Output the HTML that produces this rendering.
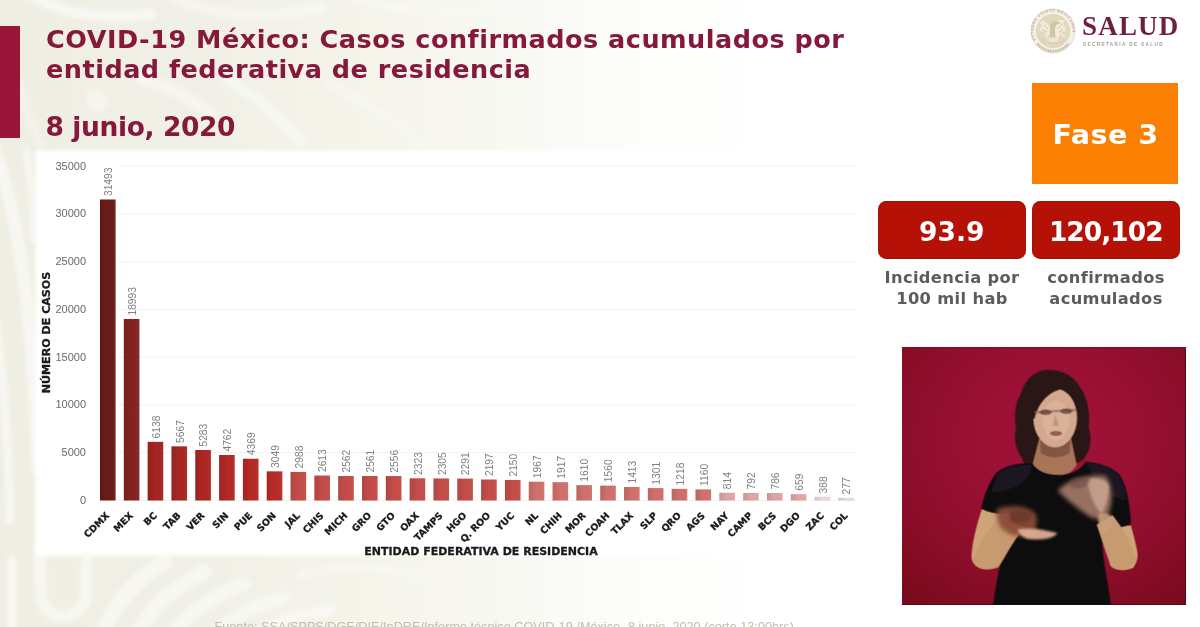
<!DOCTYPE html>
<html lang="es">
<head>
<meta charset="utf-8">
<title>COVID-19 México: Casos confirmados acumulados por entidad federativa de residencia</title>
<style>
html,body{margin:0;padding:0}
body{width:1200px;height:627px;overflow:hidden;position:relative;background:#ffffff;font-family:"DejaVu Sans","Liberation Sans",sans-serif}
.bg{position:absolute;left:0;top:0;width:1200px;height:627px;background:linear-gradient(90deg,#efeee3 0%,#f1f0e6 18%,#f5f5ec 32%,#f9f9f4 44%,#fdfdfb 54%,#ffffff 64%)}
.sidebar{position:absolute;left:-6px;top:26.4px;width:25.6px;height:111.3px;background:#99163a}
.title{position:absolute;left:46px;top:24.4px;margin:0;font-weight:bold;font-size:25.5px;line-height:30px;color:#86193b;letter-spacing:0.5px;white-space:nowrap}
.date{position:absolute;left:45.5px;top:109.5px;margin:0;font-weight:bold;font-size:26.5px;line-height:34px;color:#86193b;letter-spacing:-0.4px;white-space:nowrap}
.logo-t{position:absolute;left:1082px;top:10.7px;font-family:"Liberation Serif","DejaVu Serif",serif;font-weight:bold;font-size:27px;line-height:30px;color:#6e1f3f;letter-spacing:1.2px;white-space:nowrap}
.logo-s{position:absolute;left:1083px;top:40.8px;font-family:"Liberation Sans",sans-serif;font-weight:bold;font-size:4.7px;line-height:8px;color:#a39c8a;letter-spacing:1.36px;white-space:nowrap}
.fase{position:absolute;left:1032px;top:83px;width:146px;height:101px;background:#fb7f03;color:#fff;font-weight:bold;font-size:28.6px;line-height:105px;text-align:center;letter-spacing:0.45px;text-indent:0.45px}
.fase span{display:inline-block;transform:scaleY(0.925)}
.kpi{position:absolute;top:200.6px;height:58.4px;border-radius:8.5px;background:#b51106;box-shadow:inset 0 0 0 1px rgba(130,24,14,0.55);color:#fff;font-weight:bold;font-size:26.5px;line-height:61px;text-align:center}
.cap{position:absolute;top:266.5px;font-weight:bold;font-size:16.3px;line-height:21px;color:#5c5c5c;text-align:center;letter-spacing:0.35px}
.video{position:absolute;left:902px;top:346.5px;width:283.7px;height:258.9px;background:radial-gradient(ellipse 78% 80% at 52% 36%,#a21238 0%,#9a1034 35%,#8b0d29 70%,#790b1d 100%);box-shadow:inset 0 1px 0 #7d0b25,inset -1px -1px 0 #5a0714;overflow:hidden}
.foot{position:absolute;left:214.5px;top:619.4px;font-family:"Liberation Sans",sans-serif;font-size:12.6px;line-height:16px;color:#c2bcad;white-space:nowrap;letter-spacing:0.05px}
.title,.date,.fase,.kpi,.cap,.logo-t,.sidebar{filter:blur(0.45px)}
.logo-s{filter:blur(0.3px)}
.video{filter:blur(0.5px)}
</style>
</head>
<body>
<div class="bg"></div>
<svg width="1200" height="627" viewBox="0 0 1200 627" style="position:absolute;left:0;top:0">
<defs><filter id="pg" x="-5%" y="-5%" width="110%" height="110%"><feGaussianBlur stdDeviation="2.2"/></filter></defs>
<g filter="url(#pg)" fill="none" stroke="#fbfaf7" stroke-linecap="round" opacity="0.72">
  <!-- left strip bands -->
  <path d="M-6 150 C10 190 22 250 30 330 C34 380 36 420 38 470" stroke-width="13"/>
  <path d="M-8 300 C2 360 8 430 10 520" stroke-width="9"/>
  <path d="M26 150 C30 170 33 200 34 240" stroke-width="7"/>
  <!-- bottom U -->
  <path d="M40 548 L41 596 C44 622 82 624 86 596 L87 560" stroke-width="12"/>
  <path d="M12 560 L12 640" stroke-width="10"/>
  <!-- bottom feather bands -->
  <path d="M100 640 C112 606 134 580 164 562" stroke-width="16"/>
  <path d="M134 640 C148 610 172 588 204 572" stroke-width="15"/>
  <path d="M170 640 C186 614 210 596 244 584" stroke-width="14"/>
  <path d="M208 640 C226 620 250 606 284 598" stroke-width="13"/>
  <path d="M250 640 C270 624 296 614 330 610" stroke-width="11"/>
  <path d="M300 575 C340 565 380 566 420 575" stroke-width="9" opacity="0.6"/>
  <!-- top pattern -->
  <path d="M30 -6 C60 14 100 20 150 14" stroke-width="11"/>
  <path d="M170 -4 C210 16 260 20 320 8" stroke-width="10" opacity="0.8"/>
  <path d="M350 -4 C400 14 450 16 520 4" stroke-width="9" opacity="0.6"/>
  <path d="M140 78 C165 84 190 98 210 114" stroke-width="12" opacity="0.8"/>
  <path d="M228 80 C255 95 280 118 300 142" stroke-width="12" opacity="0.8"/>
  <path d="M90 96 C94 92 102 94 104 102 C102 110 92 110 90 96 Z" stroke-width="9" opacity="0.8"/>
  <path d="M330 84 C360 100 395 118 420 146" stroke-width="10" opacity="0.55"/>
  <path d="M20 84 C24 104 30 124 42 146" stroke-width="8" opacity="0.6"/>
</g>
</svg>

<div class="sidebar"></div>
<h1 class="title">COVID-19 México: Casos confirmados acumulados por<br>entidad federativa de residencia</h1>
<h2 class="date">8 junio, 2020</h2>
<svg width="1200" height="627" viewBox="0 0 1200 627" style="position:absolute;left:0;top:0">
<defs><filter id="soft" x="-5%" y="-5%" width="110%" height="110%"><feGaussianBlur stdDeviation="0.5"/></filter><filter id="b6" x="-10%" y="-10%" width="120%" height="120%"><feGaussianBlur stdDeviation="2.2"/></filter><linearGradient id="barsh" x1="0" x2="1" y1="0" y2="0"><stop offset="0" stop-color="#000" stop-opacity="0.10"/><stop offset="0.5" stop-color="#000" stop-opacity="0"/><stop offset="1" stop-color="#fff" stop-opacity="0.04"/></linearGradient></defs>
<rect x="35.5" y="150.5" width="859" height="405" fill="#ffffff" filter="url(#b6)"/>
<g filter="url(#soft)">
<line x1="118" x2="856" y1="500.5" y2="500.5" stroke="#f2f2f2" stroke-width="1"/>
<line x1="118" x2="856" y1="452.7" y2="452.7" stroke="#f2f2f2" stroke-width="1"/>
<line x1="118" x2="856" y1="404.9" y2="404.9" stroke="#f2f2f2" stroke-width="1"/>
<line x1="118" x2="856" y1="357.1" y2="357.1" stroke="#f2f2f2" stroke-width="1"/>
<line x1="118" x2="856" y1="309.3" y2="309.3" stroke="#f2f2f2" stroke-width="1"/>
<line x1="118" x2="856" y1="261.6" y2="261.6" stroke="#f2f2f2" stroke-width="1"/>
<line x1="118" x2="856" y1="213.8" y2="213.8" stroke="#f2f2f2" stroke-width="1"/>
<line x1="118" x2="856" y1="166.0" y2="166.0" stroke="#f2f2f2" stroke-width="1"/>
<g font-family="'Liberation Sans', sans-serif" font-size="11" fill="#6a6a6a" text-anchor="end">
<text x="86" y="504.0">0</text>
<text x="86" y="456.2">5000</text>
<text x="86" y="408.4">10000</text>
<text x="86" y="360.6">15000</text>
<text x="86" y="312.8">20000</text>
<text x="86" y="265.1">25000</text>
<text x="86" y="217.3">30000</text>
<text x="86" y="169.5">35000</text>
</g>
<rect x="100.00" y="199.50" width="15.6" height="301.00" fill="#6b1b19"/>
<rect x="100.00" y="199.50" width="15.6" height="301.00" fill="url(#barsh)"/>
<rect x="123.82" y="318.97" width="15.6" height="181.53" fill="#852321"/>
<rect x="123.82" y="318.97" width="15.6" height="181.53" fill="url(#barsh)"/>
<rect x="147.64" y="441.83" width="15.6" height="58.67" fill="#a52521"/>
<rect x="147.64" y="441.83" width="15.6" height="58.67" fill="url(#barsh)"/>
<rect x="171.46" y="446.34" width="15.6" height="54.16" fill="#a92622"/>
<rect x="171.46" y="446.34" width="15.6" height="54.16" fill="url(#barsh)"/>
<rect x="195.28" y="450.01" width="15.6" height="50.49" fill="#ad2724"/>
<rect x="195.28" y="450.01" width="15.6" height="50.49" fill="url(#barsh)"/>
<rect x="219.10" y="454.99" width="15.6" height="45.51" fill="#b22925"/>
<rect x="219.10" y="454.99" width="15.6" height="45.51" fill="url(#barsh)"/>
<rect x="242.92" y="458.74" width="15.6" height="41.76" fill="#b62a27"/>
<rect x="242.92" y="458.74" width="15.6" height="41.76" fill="url(#barsh)"/>
<rect x="266.74" y="471.36" width="15.6" height="29.14" fill="#ba2b28"/>
<rect x="266.74" y="471.36" width="15.6" height="29.14" fill="url(#barsh)"/>
<rect x="290.56" y="471.94" width="15.6" height="28.56" fill="#c44d49"/>
<rect x="290.56" y="471.94" width="15.6" height="28.56" fill="url(#barsh)"/>
<rect x="314.38" y="475.53" width="15.6" height="24.97" fill="#c44d49"/>
<rect x="314.38" y="475.53" width="15.6" height="24.97" fill="url(#barsh)"/>
<rect x="338.20" y="476.01" width="15.6" height="24.49" fill="#c44d49"/>
<rect x="338.20" y="476.01" width="15.6" height="24.49" fill="url(#barsh)"/>
<rect x="362.02" y="476.02" width="15.6" height="24.48" fill="#c44d49"/>
<rect x="362.02" y="476.02" width="15.6" height="24.48" fill="url(#barsh)"/>
<rect x="385.84" y="476.07" width="15.6" height="24.43" fill="#c44d49"/>
<rect x="385.84" y="476.07" width="15.6" height="24.43" fill="url(#barsh)"/>
<rect x="409.66" y="478.30" width="15.6" height="22.20" fill="#c44d49"/>
<rect x="409.66" y="478.30" width="15.6" height="22.20" fill="url(#barsh)"/>
<rect x="433.48" y="478.47" width="15.6" height="22.03" fill="#c44d49"/>
<rect x="433.48" y="478.47" width="15.6" height="22.03" fill="url(#barsh)"/>
<rect x="457.30" y="478.60" width="15.6" height="21.90" fill="#c44d49"/>
<rect x="457.30" y="478.60" width="15.6" height="21.90" fill="url(#barsh)"/>
<rect x="481.12" y="479.50" width="15.6" height="21.00" fill="#c44d49"/>
<rect x="481.12" y="479.50" width="15.6" height="21.00" fill="url(#barsh)"/>
<rect x="504.94" y="479.95" width="15.6" height="20.55" fill="#c44d49"/>
<rect x="504.94" y="479.95" width="15.6" height="20.55" fill="url(#barsh)"/>
<rect x="528.76" y="481.70" width="15.6" height="18.80" fill="#d0706c"/>
<rect x="528.76" y="481.70" width="15.6" height="18.80" fill="url(#barsh)"/>
<rect x="552.58" y="482.18" width="15.6" height="18.32" fill="#d0706c"/>
<rect x="552.58" y="482.18" width="15.6" height="18.32" fill="url(#barsh)"/>
<rect x="576.40" y="485.11" width="15.6" height="15.39" fill="#d0706c"/>
<rect x="576.40" y="485.11" width="15.6" height="15.39" fill="url(#barsh)"/>
<rect x="600.22" y="485.59" width="15.6" height="14.91" fill="#d0706c"/>
<rect x="600.22" y="485.59" width="15.6" height="14.91" fill="url(#barsh)"/>
<rect x="624.04" y="486.99" width="15.6" height="13.51" fill="#d0706c"/>
<rect x="624.04" y="486.99" width="15.6" height="13.51" fill="url(#barsh)"/>
<rect x="647.86" y="488.07" width="15.6" height="12.43" fill="#d0706c"/>
<rect x="647.86" y="488.07" width="15.6" height="12.43" fill="url(#barsh)"/>
<rect x="671.68" y="488.86" width="15.6" height="11.64" fill="#d0706c"/>
<rect x="671.68" y="488.86" width="15.6" height="11.64" fill="url(#barsh)"/>
<rect x="695.50" y="489.41" width="15.6" height="11.09" fill="#d0706c"/>
<rect x="695.50" y="489.41" width="15.6" height="11.09" fill="url(#barsh)"/>
<rect x="719.32" y="492.72" width="15.6" height="7.78" fill="#dfa5a5"/>
<rect x="719.32" y="492.72" width="15.6" height="7.78" fill="url(#barsh)"/>
<rect x="743.14" y="492.93" width="15.6" height="7.57" fill="#dfa5a5"/>
<rect x="743.14" y="492.93" width="15.6" height="7.57" fill="url(#barsh)"/>
<rect x="766.96" y="492.99" width="15.6" height="7.51" fill="#dfa5a5"/>
<rect x="766.96" y="492.99" width="15.6" height="7.51" fill="url(#barsh)"/>
<rect x="790.78" y="494.20" width="15.6" height="6.30" fill="#dfa5a5"/>
<rect x="790.78" y="494.20" width="15.6" height="6.30" fill="url(#barsh)"/>
<rect x="814.60" y="496.79" width="15.6" height="3.71" fill="#ead6d6"/>
<rect x="814.60" y="496.79" width="15.6" height="3.71" fill="url(#barsh)"/>
<rect x="838.42" y="497.85" width="15.6" height="2.65" fill="#ead6d6"/>
<rect x="838.42" y="497.85" width="15.6" height="2.65" fill="url(#barsh)"/>
<g font-family="'Liberation Sans', sans-serif" font-size="10.3" fill="#808080">
<text transform="translate(112.0,196.1) rotate(-90)">31493</text>
<text transform="translate(135.8,315.6) rotate(-90)">18993</text>
<text transform="translate(159.6,438.4) rotate(-90)">6138</text>
<text transform="translate(183.5,442.9) rotate(-90)">5667</text>
<text transform="translate(207.3,446.6) rotate(-90)">5283</text>
<text transform="translate(231.1,451.6) rotate(-90)">4762</text>
<text transform="translate(254.9,455.3) rotate(-90)">4369</text>
<text transform="translate(278.7,468.0) rotate(-90)">3049</text>
<text transform="translate(302.6,468.5) rotate(-90)">2988</text>
<text transform="translate(326.4,472.1) rotate(-90)">2613</text>
<text transform="translate(350.2,472.6) rotate(-90)">2562</text>
<text transform="translate(374.0,472.6) rotate(-90)">2561</text>
<text transform="translate(397.8,472.7) rotate(-90)">2556</text>
<text transform="translate(421.7,474.9) rotate(-90)">2323</text>
<text transform="translate(445.5,475.1) rotate(-90)">2305</text>
<text transform="translate(469.3,475.2) rotate(-90)">2291</text>
<text transform="translate(493.1,476.1) rotate(-90)">2197</text>
<text transform="translate(516.9,476.6) rotate(-90)">2150</text>
<text transform="translate(540.8,478.3) rotate(-90)">1967</text>
<text transform="translate(564.6,478.8) rotate(-90)">1917</text>
<text transform="translate(588.4,481.7) rotate(-90)">1610</text>
<text transform="translate(612.2,482.2) rotate(-90)">1560</text>
<text transform="translate(636.0,483.6) rotate(-90)">1413</text>
<text transform="translate(659.9,484.7) rotate(-90)">1301</text>
<text transform="translate(683.7,485.5) rotate(-90)">1218</text>
<text transform="translate(707.5,486.0) rotate(-90)">1160</text>
<text transform="translate(731.3,489.3) rotate(-90)">814</text>
<text transform="translate(755.1,489.5) rotate(-90)">792</text>
<text transform="translate(779.0,489.6) rotate(-90)">786</text>
<text transform="translate(802.8,490.8) rotate(-90)">659</text>
<text transform="translate(826.6,493.4) rotate(-90)">388</text>
<text transform="translate(850.4,494.5) rotate(-90)">277</text>
</g>
<g font-family="'DejaVu Sans', 'Liberation Sans', sans-serif" font-weight="bold" font-size="9.4" fill="#1a1a1a" stroke="#1a1a1a" stroke-width="0.3" text-anchor="end">
<text transform="translate(109.9,516.2) rotate(-45)">CDMX</text>
<text transform="translate(133.7,516.2) rotate(-45)">MEX</text>
<text transform="translate(157.5,516.2) rotate(-45)">BC</text>
<text transform="translate(181.4,516.2) rotate(-45)">TAB</text>
<text transform="translate(205.2,516.2) rotate(-45)">VER</text>
<text transform="translate(229.0,516.2) rotate(-45)">SIN</text>
<text transform="translate(252.8,516.2) rotate(-45)">PUE</text>
<text transform="translate(276.6,516.2) rotate(-45)">SON</text>
<text transform="translate(300.5,516.2) rotate(-45)">JAL</text>
<text transform="translate(324.3,516.2) rotate(-45)">CHIS</text>
<text transform="translate(348.1,516.2) rotate(-45)">MICH</text>
<text transform="translate(371.9,516.2) rotate(-45)">GRO</text>
<text transform="translate(395.7,516.2) rotate(-45)">GTO</text>
<text transform="translate(419.6,516.2) rotate(-45)">OAX</text>
<text transform="translate(443.4,516.2) rotate(-45)">TAMPS</text>
<text transform="translate(467.2,516.2) rotate(-45)">HGO</text>
<text transform="translate(491.0,516.2) rotate(-45)">Q. ROO</text>
<text transform="translate(514.8,516.2) rotate(-45)">YUC</text>
<text transform="translate(538.7,516.2) rotate(-45)">NL</text>
<text transform="translate(562.5,516.2) rotate(-45)">CHIH</text>
<text transform="translate(586.3,516.2) rotate(-45)">MOR</text>
<text transform="translate(610.1,516.2) rotate(-45)">COAH</text>
<text transform="translate(633.9,516.2) rotate(-45)">TLAX</text>
<text transform="translate(657.8,516.2) rotate(-45)">SLP</text>
<text transform="translate(681.6,516.2) rotate(-45)">QRO</text>
<text transform="translate(705.4,516.2) rotate(-45)">AGS</text>
<text transform="translate(729.2,516.2) rotate(-45)">NAY</text>
<text transform="translate(753.0,516.2) rotate(-45)">CAMP</text>
<text transform="translate(776.9,516.2) rotate(-45)">BCS</text>
<text transform="translate(800.7,516.2) rotate(-45)">DGO</text>
<text transform="translate(824.5,516.2) rotate(-45)">ZAC</text>
<text transform="translate(848.3,516.2) rotate(-45)">COL</text>
</g>
<text x="481" y="555" text-anchor="middle" font-family="'DejaVu Sans', 'Liberation Sans', sans-serif" font-weight="bold" font-size="11" fill="#1a1a1a" stroke="#1a1a1a" stroke-width="0.3">ENTIDAD FEDERATIVA DE RESIDENCIA</text>
<text transform="translate(50.4,332.5) rotate(-90)" text-anchor="middle" font-family="'DejaVu Sans', 'Liberation Sans', sans-serif" font-weight="bold" font-size="11.1" fill="#1a1a1a" stroke="#1a1a1a" stroke-width="0.3">NÚMERO DE CASOS</text>
</g>
</svg>
<svg width="56" height="56" viewBox="-28 -28 56 56" style="position:absolute;left:1025.2px;top:2.6px">
<defs><filter id="sb" x="-10%" y="-10%" width="120%" height="120%"><feGaussianBlur stdDeviation="0.45"/></filter>
<path id="ring" d="M-16.9 9.8 A19.5 19.5 0 1 1 16.9 9.8"/></defs>
<g filter="url(#sb)">
<circle r="22.2" fill="#f6f1e5"/>
<circle r="21.9" fill="none" stroke="#d5d0c0" stroke-width="0.7"/>
<text font-family="'Liberation Sans', sans-serif" font-weight="bold" font-size="3.9" fill="#b4ae9c" letter-spacing="0.52"><textPath href="#ring" startOffset="1">ESTADOS UNIDOS MEXICANOS</textPath></text>
<path d="M-15.6 12.6 A20 20 0 0 0 15.6 12.6" fill="none" stroke="#c3bca6" stroke-width="2.6" stroke-dasharray="1.7 0.8"/>
<circle r="16.6" fill="#e2d8bf"/>
<circle r="16.6" fill="none" stroke="#d9cfb4" stroke-width="0.7"/>
<!-- eagle: wings, body, head, snake, cactus, wreath -->
<path d="M-2 -3 C-6 -10 -11 -12 -14 -8 C-12 -8 -11 -6 -11 -4 C-13 -4 -14 -2 -13 1 C-11 -1 -9 0 -8 2 C-9 4 -8 6 -6 7 C-5 4 -3 2 0 2 Z" fill="#f0e9d6"/>
<path d="M1 -4 C3 -10 8 -13 12 -10 C10 -9 10 -7 11 -5 C13 -4 13 -1 12 1 C10 -1 8 -1 7 1 C8 4 6 6 4 7 C3 4 2 2 0 2 Z" fill="#f2ebd9"/>
<path d="M-3 -4 C-3 -8 0 -11 3 -10 C5 -9.4 6 -8 8 -8.4 C7 -6.6 5 -6 3.4 -6.4 C2.4 -4 1.6 -2 2 1 C2.6 4 1.6 7 -0.6 8.4 C-2.6 6.4 -3.4 3 -3 -4 Z" fill="#d3c6a4"/>
<path d="M5 -7 C8 -5 10 -2 9 1 C8 4 10 6 12.4 5" fill="none" stroke="#f3ecdb" stroke-width="1.2"/>
<path d="M-9 -6 L-5 -2 M-11 -2 L-6 1 M9 -7 L5 -2 M10 -2 L6 1" stroke="#cfc2a0" stroke-width="0.8" fill="none"/>
<path d="M-6 9 C-6 6.6 -3.6 6 -2.6 8 C-2 5.6 1.4 5.6 2 8 C3 6 5.6 6.6 5.6 9 C4 11 -4 11 -6 9 Z" fill="#efe7d2"/>
<path d="M-11 8 C-7 14 7 14 11 8 C9 16 -9 16 -11 8 Z" fill="#cfc2a1"/>
<path d="M-8.6 11 C-4 14.6 4 14.6 8.6 11" fill="none" stroke="#f2ead6" stroke-width="0.7"/>
</g>
</svg>

<div class="logo-t">SALUD</div>
<div class="logo-s">SECRETARÍA DE SALUD</div>
<div class="fase"><span>Fase 3</span></div>
<div class="kpi" style="left:878px;width:147.5px">93.9</div>
<div class="kpi" style="left:1032px;width:147.5px;letter-spacing:-1.0px">120,102</div>
<div class="cap" style="left:872px;width:160px">Incidencia por<br>100 mil hab</div>
<div class="cap" style="left:1026px;width:160px">confirmados<br>acumulados</div>
<div class="video"><svg width="283.5" height="258" viewBox="0 0 283.5 258" style="position:absolute;left:0;top:0">
<defs>
<filter id="pb" x="-10%" y="-10%" width="120%" height="120%"><feGaussianBlur stdDeviation="1.5"/></filter>
<filter id="pb2" x="-25%" y="-25%" width="150%" height="150%"><feGaussianBlur stdDeviation="5"/></filter>
<filter id="pb3" x="-25%" y="-25%" width="150%" height="150%"><feGaussianBlur stdDeviation="3"/></filter>
</defs>
<!-- authored in a 2.51x space whose origin is page (950,360); panel origin is (902,346.5) -->
<g transform="translate(48,13.5) scale(0.3984)">
 <g filter="url(#pb)">
  <!-- hair (wavy bob) -->
  <path d="M252 24 C214 22 188 48 178 84 C164 104 160 140 166 170 C158 196 166 226 180 244 C184 262 200 276 222 270 L238 250 L300 250 C312 262 332 258 340 240 C354 222 356 190 348 168 C352 136 346 100 332 76 C316 42 286 24 252 24 Z" fill="#2a1813"/>
  <!-- neck (in shadow) -->
  <path d="M224 196 L304 196 L318 262 C298 300 240 300 206 264 Z" fill="#a87458"/>
  <path d="M226 200 L302 200 L300 232 C280 246 248 246 228 232 Z" fill="#7e4f3e" opacity="0.85"/>
  <!-- face -->
  <ellipse cx="264" cy="144" rx="55" ry="74" fill="#d3a88e"/>
  <ellipse cx="266" cy="150" rx="34" ry="50" fill="#dbb49c" opacity="0.8"/>
  <!-- side-swept fringe -->
  <path d="M202 146 C196 94 224 54 262 52 C300 50 328 78 328 126 C320 100 302 80 278 72 C250 80 224 100 212 146 Z" fill="#2a1813"/>
  <path d="M322 110 C332 140 330 180 320 212 C332 196 342 150 332 112 Z" fill="#2a1813"/>
  <path d="M206 130 C198 160 202 200 212 224 C196 210 188 160 198 124 Z" fill="#2a1813"/>
  <!-- glasses / eyes / nose / mouth -->
  <path d="M212 130 L318 124" stroke="#8b6a60" stroke-width="6" fill="none" opacity="0.7"/>
  <ellipse cx="240" cy="130" rx="15" ry="7" fill="#5a3a32" opacity="0.7"/>
  <ellipse cx="292" cy="127" rx="15" ry="7" fill="#5a3a32" opacity="0.7"/>
  <path d="M264 136 L258 164 L274 164 Z" fill="#b98870" opacity="0.7"/>
  <ellipse cx="266" cy="183" rx="15" ry="6.5" fill="#8e4a46" opacity="0.85"/>
  <!-- upper arms -->
  <path d="M80 372 C66 416 54 460 54 496 C58 516 74 526 100 524 C112 522 120 518 124 512 C134 474 150 430 162 384 Z" fill="#cfa477"/>
  <path d="M380 420 C388 452 396 486 402 514 C412 528 440 530 460 520 C470 506 472 492 470 480 C466 456 460 436 454 414 Z" fill="#cfa477"/>
  <!-- shirt -->
  <path d="M206 258 C176 256 140 262 116 282 C98 306 84 340 78 372 C102 384 130 388 154 382 C148 410 140 440 134 470 C124 520 114 566 108 614 L404 614 C398 566 388 520 384 484 C382 462 382 440 384 424 C408 424 434 418 454 410 C452 364 444 320 428 290 C410 266 370 256 340 254 C318 296 232 300 206 258 Z" fill="#0e0d10"/>
  <path d="M120 284 C140 266 176 260 204 262 C204 296 170 326 104 330 Z" fill="#2a2530" opacity="0.55"/>
  <path d="M344 258 C378 258 408 268 424 290 C436 312 442 334 440 352 C400 340 360 310 344 258 Z" fill="#2a2530" opacity="0.5"/>
  <!-- forearms -->
  <path d="M58 500 C70 460 96 420 130 392 L186 420 C160 450 140 490 122 518 C100 528 72 524 58 500 Z" fill="#c79a70"/>
  <path d="M466 500 C456 460 434 420 408 388 L368 412 C380 446 392 486 404 516 C424 530 452 526 466 500 Z" fill="#c79a70"/>
 </g>
 <!-- hands (motion blurred) -->
 <g filter="url(#pb2)">
  <path d="M118 372 C150 362 196 364 214 384 C222 400 218 420 206 438 C180 446 150 440 132 424 C120 410 114 390 118 372 Z" fill="#8a4c3a" opacity="0.95"/>
  <path d="M270 326 C296 300 346 284 390 290 C408 312 410 350 398 384 C384 402 358 400 342 386 C318 368 292 350 270 326 Z" fill="#a67c6c" opacity="0.9"/>
 </g>
 <g filter="url(#pb3)">
  <path d="M170 424 C200 418 240 424 270 434 C262 446 230 452 196 448 C182 444 172 436 170 424 Z" fill="#dcae94" opacity="0.95"/>
  <path d="M150 380 C170 372 196 376 206 392 C196 408 170 412 152 402 Z" fill="#5c3026" opacity="0.55"/>
  <path d="M344 300 C362 292 388 296 398 312 C400 340 392 366 380 384 C366 372 350 340 344 300 Z" fill="#cda894" opacity="0.8"/>
  <path d="M300 300 C320 290 344 290 352 300 C346 318 322 326 304 318 Z" fill="#6a4640" opacity="0.55"/>
  <path d="M372 386 C386 380 402 384 410 396 C408 416 398 430 384 432 C374 420 370 402 372 386 Z" fill="#c9a07c" opacity="0.9"/>
 </g>
</g>
</svg>
</div>
<div class="foot">Fuente: SSA/SPPS/DGE/DIE/InDRE/Informe técnico.COVID-19 /México- 8 junio, 2020 (corte 13:00hrs)</div>
</body>
</html>
